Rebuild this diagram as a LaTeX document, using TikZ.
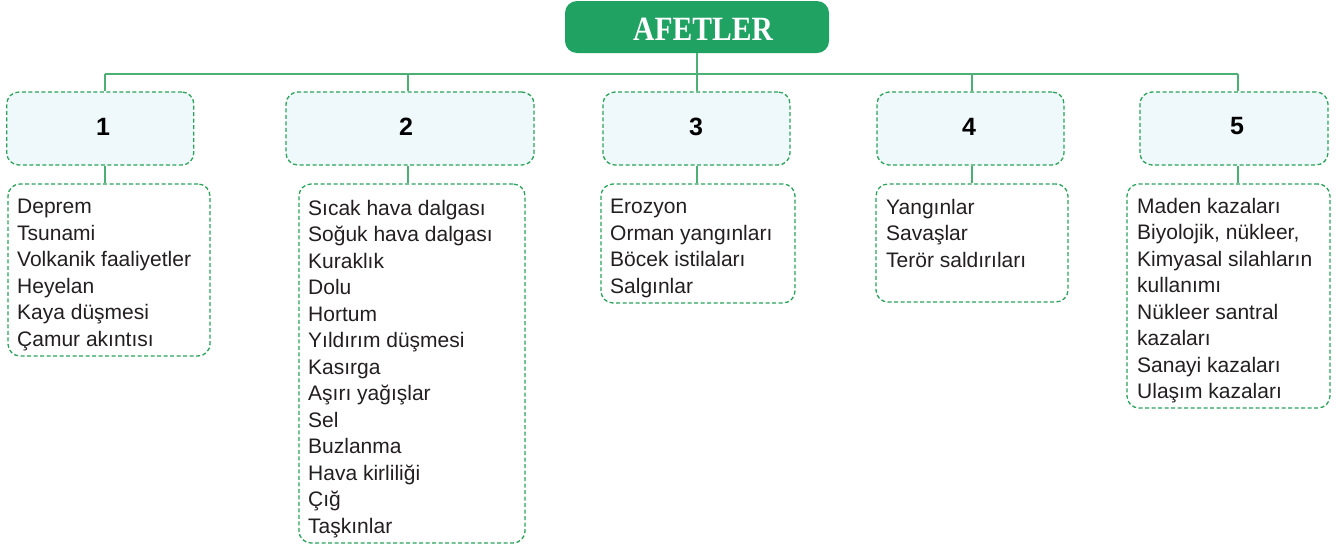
\documentclass[tikz,border=0pt]{standalone}
\usepackage{fontspec}
\setmainfont{Liberation Sans}
\newfontfamily\titlefont{Liberation Serif}
\definecolor{titlegreen}{HTML}{1FA262}
\definecolor{linegreen}{HTML}{4CAF74}
\definecolor{dashgreen}{HTML}{2BA35B}
\definecolor{lightfill}{HTML}{EFF8FA}
\definecolor{txt}{HTML}{231F20}
\tikzset{
  titlebox/.style={draw=none, fill=titlegreen, rounded corners=12pt, minimum width=264pt, minimum height=52pt, inner sep=0pt},
  numbox/.style={draw=dashgreen, fill=lightfill, dash pattern=on 4pt off 2.5pt, line width=1.3pt, rounded corners=12pt, minimum height=73pt, inner sep=0pt},
  listbox/.style={draw=dashgreen, fill=white, dash pattern=on 4pt off 2.5pt, line width=1.3pt, rounded corners=12pt, inner sep=0pt},
  numtext/.style={font=\fontsize{25}{30}\selectfont\bfseries, text=black, inner sep=0pt},
  listtext/.style={font=\fontsize{21}{26.5}\selectfont, text=txt, align=left, inner sep=0pt, anchor=north west},
  conn/.style={draw=linegreen, line width=1.6pt},
}
\begin{document}
\begin{tikzpicture}[x=1pt,y=-1pt]
\useasboundingbox (0,0) rectangle (1336,550);
% title
\node[titlebox] (title) at (697,27) {};
\node[text=white, inner sep=0pt] (titletext) at (703,29) {\scalebox{0.87}[1]{\titlefont\fontsize{34}{40}\selectfont\bfseries AFETLER}};
% number boxes
\node[numbox, minimum width=187pt] (b1) at (100.3,128.5) {};
\node[numbox, minimum width=248pt] (b2) at (410,128.5) {};
\node[numbox, minimum width=187pt] (b3) at (696.5,128.5) {};
\node[numbox, minimum width=187pt] (b4) at (970.5,128.5) {};
\node[numbox, minimum width=188pt] (b5) at (1234,128.5) {};
% junction coordinates
\coordinate (j1) at (105,74);
\coordinate (j2) at (408,74);
\coordinate (j3) at (697,74);
\coordinate (j4) at (972,74);
\coordinate (j5) at (1238,74);
\node[numtext] (n1) at (103,126.5) {1};
\node[numtext] (n2) at (406,126.5) {2};
\node[numtext] (n3) at (696,126.5) {3};
\node[numtext] (n4) at (969,126.5) {4};
\node[numtext] (n5) at (1237,126.5) {5};
% list boxes
\node[listbox, minimum width=202pt, minimum height=172pt] (l1) at (109,270) {};
\node[listbox, minimum width=226pt, minimum height=359pt] (l2) at (412,363.5) {};
\node[listbox, minimum width=194pt, minimum height=119pt] (l3) at (698,243.5) {};
\node[listbox, minimum width=192pt, minimum height=118pt] (l4) at (972,243) {};
\node[listbox, minimum width=203pt, minimum height=224pt] (l5) at (1228.5,296) {};
% list texts
\node[listtext] (t1) at (17,199) {Deprem\\Tsunami\\Volkanik faaliyetler\\Heyelan\\Kaya düşmesi\\Çamur akıntısı};
\node[listtext] (t2) at (308,199.6) {Sıcak hava dalgası\\Soğuk hava dalgası\\Kuraklık\\Dolu\\Hortum\\Yıldırım düşmesi\\Kasırga\\Aşırı yağışlar\\Sel\\Buzlanma\\Hava kirliliği\\Çığ\\Taşkınlar};
\node[listtext] (t3) at (610,199) {Erozyon\\Orman yangınları\\Böcek istilaları\\Salgınlar};
\node[listtext] (t4) at (886,199) {Yangınlar\\Savaşlar\\Terör saldırıları};
\node[listtext] (t5) at (1137,198) {Maden kazaları\\Biyolojik, nükleer,\\Kimyasal silahların\\kullanımı\\Nükleer santral\\kazaları\\Sanayi kazaları\\Ulaşım kazaları};
% connectors
\draw[conn] (j1) -- (j5);
\draw[conn] (title.south -| j3) -- (j3 |- b3.north);
\foreach \i in {1,2,4,5} { \draw[conn] (j\i) -- (j\i |- b\i.north); }
\foreach \i in {1,2,3,4,5} { \draw[conn] (j\i |- b\i.south) -- (j\i |- l\i.north); }
\end{tikzpicture}
\end{document}
